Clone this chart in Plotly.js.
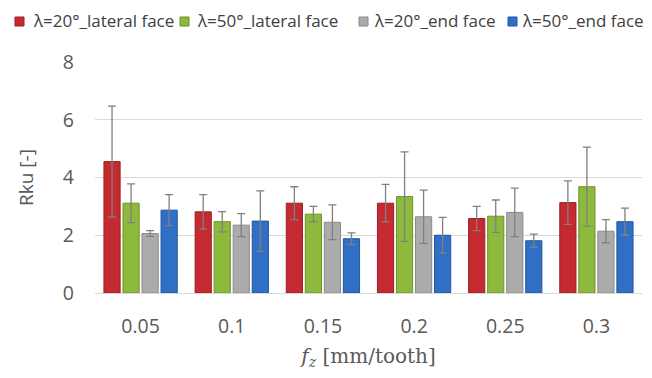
<!DOCTYPE html>
<html>
<head>
<meta charset="utf-8">
<script src="https://cdn.plot.ly/plotly-3.0.1.min.js"></script>
<style>html,body{margin:0;padding:0;background:#fff}#chart{width:652px;height:378px}</style>
</head>
<body>
<div id="chart"></div>
<script>
const categories = ["0.05", "0.1", "0.15", "0.2", "0.25", "0.3"];
const seriesNames = ["λ=20°_lateral face", "λ=50°_lateral face", "λ=20°_end face", "λ=50°_end face"];
const lateral20 = [4.55, 2.81, 3.11, 3.11, 2.58, 3.13];
const lateral50 = [3.11, 2.47, 2.73, 3.34, 2.66, 3.68];
const end20 = [2.06, 2.35, 2.45, 2.64, 2.79, 2.14];
const end50 = [2.87, 2.49, 1.88, 2.00, 1.81, 2.47];
const lateral20Err = [1.92, 0.60, 0.57, 0.65, 0.42, 0.75];
const lateral50Err = [0.67, 0.35, 0.27, 1.55, 0.56, 1.37];
const end20Err = [0.10, 0.40, 0.60, 0.92, 0.84, 0.40];
const end50Err = [0.54, 1.05, 0.20, 0.62, 0.23, 0.47];

const colors = ["#C42A30", "#8DB93C", "#ABABAB", "#2F70C6"];
const lines = ["#9A1E23", "#6C9327", "#8A8A8A", "#22579F"];
const vals = [lateral20, lateral50, end20, end50];
const errs = [lateral20Err, lateral50Err, end20Err, end50Err];

// plot-area geometry (pixels) used to place the hand-drawn legend
const W = 652, H = 378, M = {l: 95, r: 10, t: 62, b: 85};
const pw = W - M.l - M.r, ph = H - M.t - M.b;
const px2x = p => (p - M.l) / pw;
const py2y = p => (H - M.b - p) / ph;
const legendSquareX = [15, 180, 359, 508];
const legendTextX = [31, 195, 372, 520];

const traces = vals.map((v, i) => ({
  type: "bar",
  name: seriesNames[i],
  x: categories,
  y: v,
  showlegend: false,
  marker: {color: colors[i], line: {color: lines[i], width: 1}},
  error_y: {type: "data", array: errs[i], visible: true, color: "#808080", thickness: 1.3, width: 4}
}));

const shapes = seriesNames.map((n, i) => ({
  type: "rect", xref: "paper", yref: "paper",
  x0: px2x(legendSquareX[i]), x1: px2x(legendSquareX[i] + 9),
  y0: py2y(26), y1: py2y(17),
  fillcolor: colors[i], line: {color: lines[i], width: 1}
}));

const annotations = seriesNames.map((n, i) => ({
  text: n, xref: "paper", yref: "paper",
  x: px2x(legendTextX[i]), y: py2y(20.5),
  xanchor: "left", yanchor: "middle", showarrow: false,
  font: {family: "Open Sans, sans-serif", size: 17, color: "#404040"}
}));

const layout = {
  width: W, height: H,
  margin: M,
  paper_bgcolor: "#fff", plot_bgcolor: "#fff",
  font: {family: "Open Sans, sans-serif", color: "#595959"},
  barmode: "group", bargap: 0.165, bargroupgap: 0.15,
  showlegend: false,
  shapes: shapes,
  annotations: annotations,
  xaxis: {
    type: "category", showgrid: false, showline: true, linecolor: "#D9D9D9", linewidth: 1,
    ticks: "", tickfont: {size: 19.5, color: "#595959"}, ticklabelstandoff: 16,
    title: {text: "<i>f</i><sub><i>z</i></sub> [mm/tooth]", font: {family: "DejaVu Serif, Liberation Serif, serif", size: 20, color: "#595959"}, standoff: 10}
  },
  yaxis: {
    range: [0, 8], dtick: 2, showgrid: true, gridcolor: "#D9D9D9", zeroline: false,
    ticks: "", tickfont: {size: 19.5, color: "#595959"}, ticklabelstandoff: 20,
    title: {text: "Rku [-]", font: {size: 19, color: "#595959"}, standoff: 24}
  }
};

Plotly.newPlot("chart", traces, layout, {displayModeBar: false, staticPlot: true});
</script>
</body>
</html>
